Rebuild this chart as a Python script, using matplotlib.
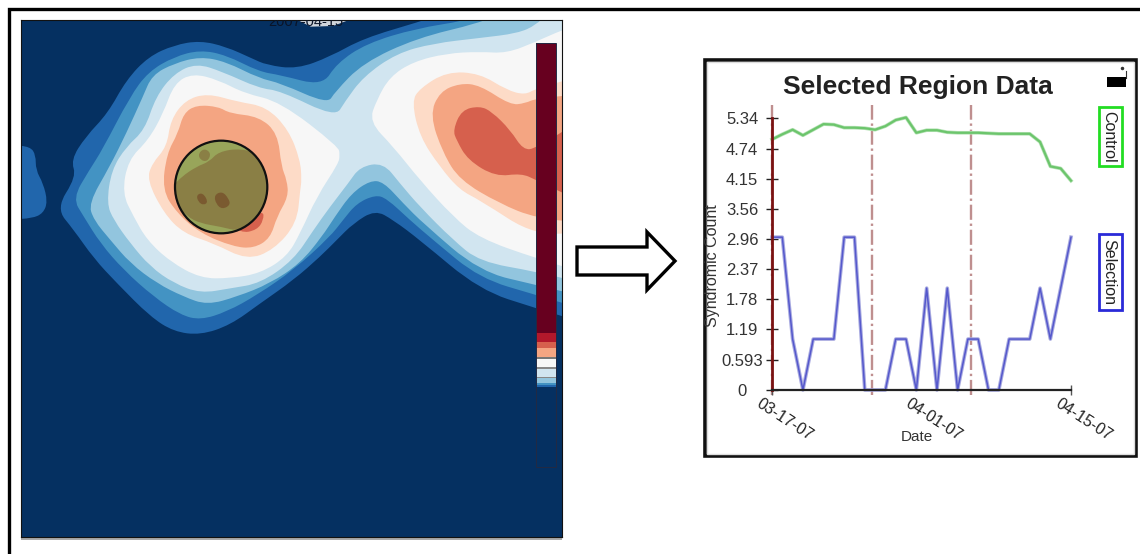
import matplotlib
matplotlib.use('Agg')
from matplotlib import pyplot as plt
from matplotlib import patheffects as pe
from matplotlib.patches import Ellipse, PathPatch, Polygon, Rectangle
from matplotlib.path import Path

plt.rcParams['font.family'] = ['Liberation Sans', 'DejaVu Sans']

# ---- map data, outlines (map units) ----
band_colors = ['#2166ac', '#4393c3', '#92c5de', '#d1e5f0', '#f7f7f7', '#fddbc7', '#f4a582', '#d6604d']
navy = '#053061'

band1 = [(150, 625), (205, 530), (190, 480), (230, 410), (290, 340), (340, 240), (400, 170), (470, 135),
         (540, 122), (610, 140), (680, 175), (720, 195), (802, 207), (892, 170), (982, 115), (1135, 65),
         (1200, 40), (1600, 40), (1600, 975), (1450, 925), (1297, 870), (1135, 720), (1063, 660), (1014, 630),
         (955, 670), (910, 720), (865, 770), (793, 840), (703, 910), (622, 975), (541, 1005), (469, 995),
         (405, 950), (315, 850), (252, 775), (198, 690)]
band2 = [(195, 595), (240, 510), (275, 450), (350, 290), (400, 215), (470, 170), (540, 150), (610, 165),
         (700, 215), (757, 225), (871, 258), (910, 190), (991, 130), (1126, 85), (1260, 62), (1300, 40),
         (1600, 40), (1600, 935), (1450, 885), (1297, 835), (1171, 720), (1108, 660), (1045, 595), (1014, 585),
         (964, 610), (927, 660), (892, 710), (793, 810), (694, 885), (613, 935), (541, 960), (487, 945),
         (414, 890), (333, 810), (270, 730), (225, 650)]
band3 = [(238, 610), (295, 500), (340, 400), (385, 290), (410, 225), (470, 190), (540, 170), (610, 185),
         (700, 235), (757, 249), (885, 312), (905, 276), (981, 189), (1127, 114), (1297, 69), (1350, 40),
         (1600, 40), (1600, 895), (1450, 855), (1297, 815), (1144, 670), (1090, 610), (1036, 545), (1000, 542),
         (950, 580), (905, 650), (870, 710), (811, 790), (730, 850), (640, 890), (559, 915), (495, 890),
         (423, 850), (351, 790), (297, 720), (252, 660)]
band4 = [(287, 610), (300, 510), (340, 440), (390, 390), (420, 290), (470, 220), (530, 190), (600, 215),
         (700, 265), (757, 272), (906, 352), (932, 305), (982, 230), (1072, 160), (1172, 130), (1297, 114),
         (1400, 100), (1450, 75), (1480, 40), (1600, 40), (1600, 855), (1450, 815), (1297, 785), (1225, 720),
         (1135, 620), (1081, 550), (1036, 488), (973, 500), (941, 550), (892, 620), (847, 690), (793, 780),
         (703, 850), (622, 865), (541, 880), (469, 850), (405, 800), (351, 730), (306, 660)]
band5_left = [(329, 580), (345, 480), (400, 420), (440, 340), (470, 250), (520, 220), (590, 240), (660, 280),
              (757, 305), (915, 440), (918, 465), (915, 490), (856, 590), (811, 700), (775, 770), (703, 820),
              (622, 835), (541, 835), (459, 785), (396, 720), (360, 650)]
band5_right = [(998, 365), (1018, 300), (1054, 230), (1117, 185), (1208, 160), (1297, 155), (1370, 160),
               (1450, 125), (1520, 90), (1600, 60), (1600, 825), (1450, 775), (1297, 715), (1225, 650),
               (1135, 540), (1063, 440)]
band6_left = [(396, 540), (410, 490), (450, 440), (460, 360), (500, 300), (560, 280), (640, 305), (720, 320),
              (780, 390), (811, 480), (815, 540), (811, 570), (802, 670), (739, 750), (667, 780), (577, 730),
              (495, 700), (442, 640)]
band6_right = [(1113, 305), (1135, 265), (1208, 215), (1297, 220), (1370, 270), (1420, 285), (1450, 265),
               (1600, 220), (1600, 690), (1450, 710), (1297, 600), (1243, 570), (1189, 500), (1135, 410)]
band7_left = [(437, 570), (450, 460), (480, 400), (495, 340), (530, 315), (590, 320), (620, 340), (700, 350),
              (750, 400), (760, 500), (775, 540), (779, 590), (748, 650), (730, 715), (685, 745), (630, 740),
              (541, 700), (478, 640)]
band7_right = [(1162, 345), (1189, 275), (1243, 250), (1297, 255), (1380, 315), (1420, 310), (1450, 295),
               (1600, 280), (1600, 670), (1450, 655), (1350, 610), (1243, 540), (1198, 460)]
band8_left = [(600, 650), (711, 630), (712, 660), (694, 690), (649, 700)]
band8_right = [(1225, 390), (1248, 330), (1297, 318), (1330, 335), (1380, 390), (1415, 450), (1450, 445),
               (1600, 340), (1600, 620), (1450, 540), (1410, 520), (1340, 530), (1265, 480), (1234, 420)]
side_blob = [(30, 435), (80, 440), (95, 465), (95, 510), (115, 550), (127, 605), (115, 640), (85, 655), (30, 658)]

band_outlines = [(band1, 0), (band2, 1), (band3, 2), (band4, 3), (band5_left, 4), (band5_right, 4),
                 (band6_left, 5), (band6_right, 5), (band7_left, 6), (band7_right, 6),
                 (band8_left, 7), (band8_right, 7), (side_blob, 0)]

olive_patch = [(465, 560), (490, 530), (530, 500), (565, 485), (590, 455), (650, 445), (710, 465), (735, 540),
               (730, 610), (700, 650), (650, 695), (595, 680), (541, 670), (505, 650), (465, 600)]
top_spot = [(535, 460), (552, 445), (570, 460), (560, 485), (540, 480)]
spot_a = [(530, 585), (547, 578), (562, 605), (550, 616), (535, 606)]
spot_b = [(578, 585), (600, 574), (617, 595), (622, 615), (600, 628), (583, 612)]

# colour key on the map, edges in map units, top to bottom
key_edges = [130, 1000, 1027, 1045, 1072, 1078, 1101, 1107, 1131, 1135, 1150, 1155, 1162, 1401]
key_colors = ['#67001f', '#b2182b', '#d6604d', '#f4a582', '#777777', '#f7f7f7', '#888888', '#d1e5f0',
              '#888888', '#92c5de', '#4393c3', '#2166ac', '#053061']

# ---- line chart data ----
days = list(range(30))
control = [4.92, 5.02, 5.11, 5.00, 5.11, 5.22, 5.21, 5.15, 5.15, 5.14, 5.11, 5.18, 5.30, 5.35, 5.05,
           5.10, 5.10, 5.06, 5.05, 5.05, 5.05, 5.04, 5.03, 5.03, 5.03, 5.03, 4.87, 4.39, 4.35, 4.11]
selection = [3, 3, 1, 0, 1, 1, 1, 3, 3, 0, 0, 0, 1, 1, 0, 2, 0, 2, 0, 1, 1, 0, 0, 1, 1, 1, 2, 1, 2, 3]
y_ticks = [0, 0.593, 1.19, 1.78, 2.37, 2.96, 3.56, 4.15, 4.74, 5.34]
y_tick_labels = ['0', '0.593', '1.19', '1.78', '2.37', '2.96', '3.56', '4.15', '4.74', '5.34']
date_ticks = [0, 15, 29]
date_labels = ['03-17-07', '04-01-07', '04-15-07']
marker_days = [0, 9.68, 19.3]

W, H = 1140, 554
fig = plt.figure(figsize=(W / 100, H / 100), dpi=100)


# helper, pixel box to axes
def add_axes_px(left, top, right, bottom):
    return fig.add_axes([left / W, 1 - bottom / H, (right - left) / W, (bottom - top) / H])


# round the read outline with quadratic curves through the edge midpoints
def smooth_path(pts):
    n = len(pts)
    mid = [((pts[i][0] + pts[(i + 1) % n][0]) / 2, (pts[i][1] + pts[(i + 1) % n][1]) / 2) for i in range(n)]
    verts = [mid[-1]]
    codes = [Path.MOVETO]
    for i in range(n):
        verts += [pts[i], mid[i]]
        codes += [Path.CURVE3, Path.CURVE3]
    return Path(verts, codes)


# background layer in pixels, frames and arrow
bg = fig.add_axes([0, 0, 1, 1])
bg.set_xlim(0, W)
bg.set_ylim(H, 0)
bg.axis('off')
bg.plot([9, 9, 1140], [554, 8.5, 8.5], color='black', lw=2.4, solid_joinstyle='miter')
bg.add_patch(Rectangle((704.5, 60), 431, 396, fc='white', ec='#111111', lw=2.6))
bg.add_patch(Rectangle((707, 62), 427, 392, fc='none', ec='#dddddd', lw=1))
bg.add_patch(Rectangle((21, 538), 541, 1.5, fc='#aaaaaa', ec='none'))
bg.add_patch(Polygon([(577, 247), (647, 247), (647, 232), (675, 261), (647, 290), (647, 275), (577, 275)],
                     closed=True, fc='white', ec='black', lw=2.4, joinstyle='miter'))

# icon top right of the panel
bg.add_patch(Rectangle((1107, 77), 19, 10, fc='black', ec='none'))
bg.plot([1125.5, 1125.5], [71, 78], color='#333333', lw=0.8)
bg.plot([1121.5], [68], marker='o', ms=1.5, color='#333333')

# ---- map ----
ax = add_axes_px(21, 20, 562, 537)
ax.set_xlim(55, 1520)
ax.set_ylim(1611, 60)
ax.set_facecolor(navy)
ax.set_xticks([])
ax.set_yticks([])
for s in ax.spines.values():
    s.set_linewidth(0.8)
    s.set_color('#111111')

for outline, c in band_outlines:
    ax.add_patch(PathPatch(smooth_path(outline), fc=band_colors[c], ec='none'))

# date stamp cut by the top of the map
ax.add_patch(Polygon([(795, 55), (955, 55), (900, 78), (840, 80)], closed=True, fc='#d0d5dc', ec='none'))
ax.text(725, 66, '2007-04-15', fontsize=10.5, color='#0a1428', va='center', ha='left', clip_on=True)

# selection circle, stays round in pixels
circle_x, circle_y, circle_rx, circle_ry = 597, 561, 125, 139
lens = Ellipse((circle_x, circle_y), 2 * circle_rx, 2 * circle_ry, fc='#98a55a', ec='none')
ax.add_patch(lens)
for pts, col in [(olive_patch, '#8a7f45'), (top_spot, '#8a7f45'), (spot_a, '#7a5a30'), (spot_b, '#7a5a30')]:
    p = PathPatch(smooth_path(pts), fc=col, ec='none')
    ax.add_patch(p)
    p.set_clip_path(lens)
ax.add_patch(Ellipse((circle_x, circle_y), 2 * circle_rx, 2 * circle_ry, fc='none', ec='#111111', lw=1.6))

# colour key
for i, col in enumerate(key_colors):
    ax.barh((key_edges[i] + key_edges[i + 1]) / 2, 55, height=key_edges[i + 1] - key_edges[i], left=1450,
            color=col, edgecolor='none')
ax.add_patch(Rectangle((1450, 130), 55, 1271, fc='none', ec='#222a44', lw=0.7))

# ---- chart, axes box is the plot area of the panel ----
ax2 = add_axes_px(772, 118, 1071, 390)
ax2.set_xlim(0, 29)
ax2.set_ylim(0, 5.34)
ax2.patch.set_alpha(0)
for name in ['top', 'right']:
    ax2.spines[name].set_visible(False)
ax2.spines['left'].set_color('#7a1212')
ax2.spines['left'].set_linewidth(2)
ax2.spines['bottom'].set_color('#222222')
ax2.spines['bottom'].set_linewidth(1.6)

for d in marker_days:
    ax2.plot([d, d], [-0.1, 5.6], color='#bf8f8f', lw=1.7, ls='-.', clip_on=False, zorder=1)
ax2.plot(days, control, color='#6cc56c', lw=1.6, clip_on=False,
         path_effects=[pe.withStroke(linewidth=2.6, foreground='#b5e2b5')])
ax2.plot(days, selection, color='#5558cc', lw=1.1, clip_on=False,
         path_effects=[pe.withStroke(linewidth=2.6, foreground='#a8aae0')])

ax2.set_yticks(y_ticks)
ax2.set_yticklabels(y_tick_labels)
ax2.tick_params(axis='y', direction='inout', length=8, width=1, color='#222222', labelsize=12,
                labelcolor='#333333', pad=17.5)
for lab in ax2.get_yticklabels():
    lab.set_ha('center')
ax2.set_xticks([date_ticks[0], date_ticks[-1]])
ax2.set_xticklabels(['', ''])
ax2.tick_params(axis='x', direction='inout', length=7, width=1, color='#555555')
for d, txt, dx in zip(date_ticks, date_labels, [-7, -11, -7]):
    ax2.annotate(txt, (d, 0), xytext=(dx, -4), textcoords='offset points', fontsize=11.5, color='#222222',
                 rotation=-33, rotation_mode='anchor', ha='left', va='top', annotation_clip=False)

bg.text(918, 87, 'Selected Region Data', fontsize=19, fontweight='bold', color='#222222', ha='center', va='center')
bg.text(917, 437, 'Date', fontsize=11, color='#333333', ha='center', va='center')
bg.text(713, 266, 'Syndromic Count', fontsize=11.5, color='#333333', ha='center', va='center', rotation=90)

# side legends
bg.add_patch(Rectangle((1098.5, 107), 23, 59, fc='white', ec='#22dd22', lw=2))
bg.text(1109, 136.5, 'Control', fontsize=11.5, color='#222222', ha='center', va='center', rotation=270)
bg.add_patch(Rectangle((1098.5, 234), 23, 76, fc='white', ec='#2a2ad8', lw=2))
bg.text(1109, 272, 'Selection', fontsize=11.5, color='#222222', ha='center', va='center', rotation=270)

plt.savefig('out.png', dpi=100)
